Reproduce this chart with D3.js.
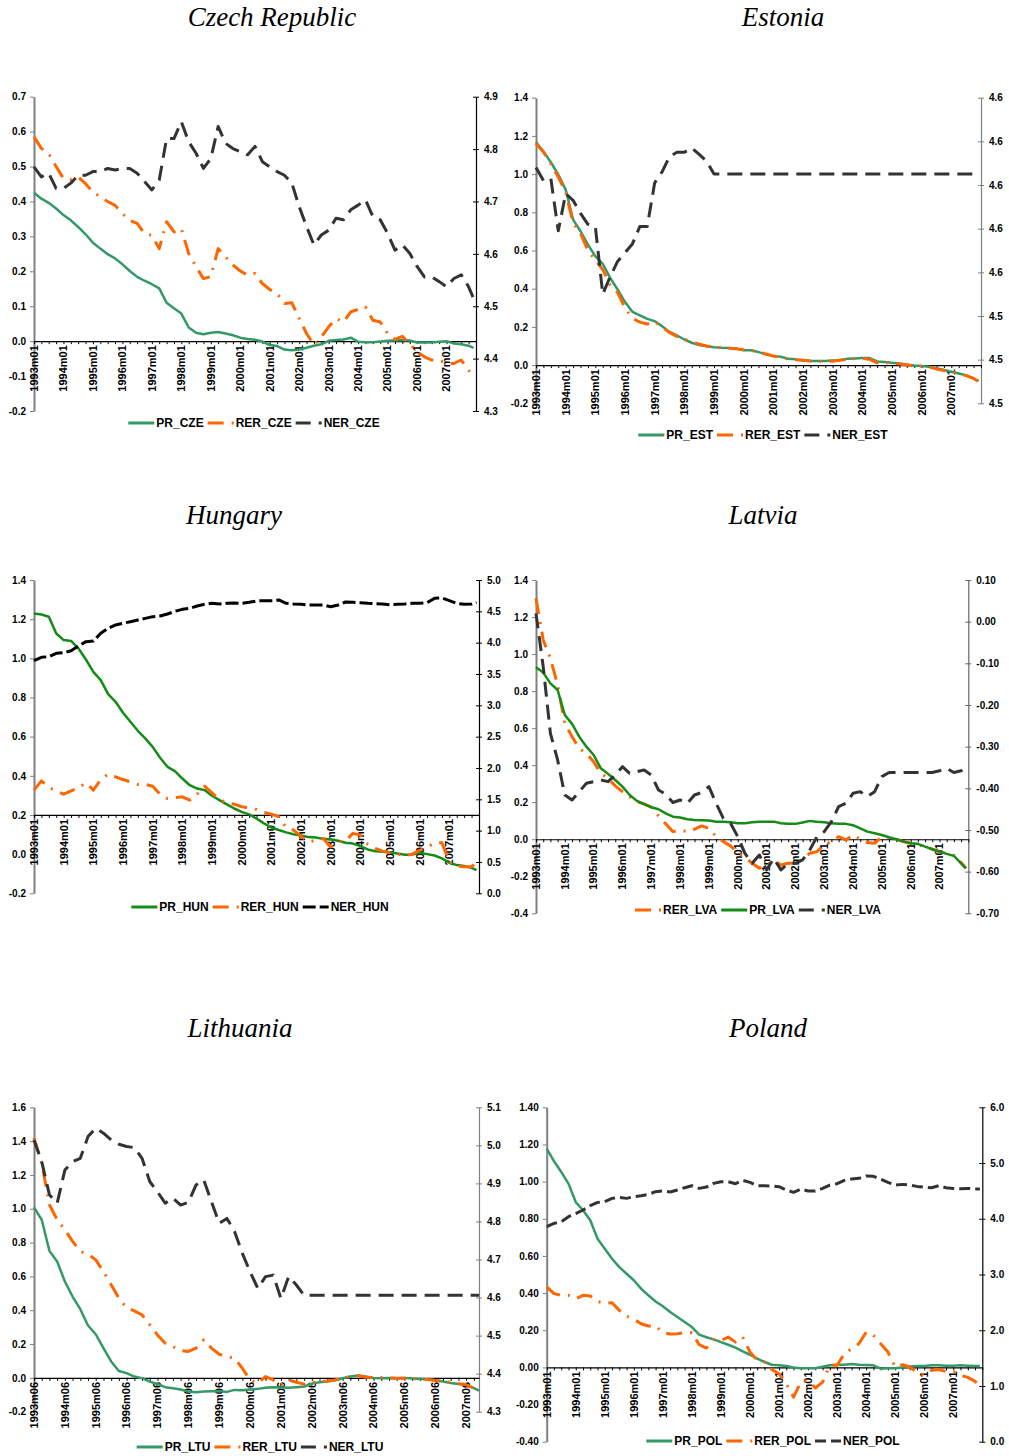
<!DOCTYPE html>
<html>
<head>
<meta charset="utf-8">
<script src="https://cdn.jsdelivr.net/npm/d3@7"></script>
<style>
  body { margin: 0; background: #fff; }
  svg { display: block; }
</style>
</head>
<body>
<svg id="chart" width="1009" height="1456"></svg>
<script>
// year labels on the category axes
const labelsM01 = ["1993m01","1994m01","1995m01","1996m01","1997m01","1998m01","1999m01","2000m01","2001m01","2002m01","2003m01","2004m01","2005m01","2006m01","2007m01"];
const labelsM06 = ["1993m06","1994m06","1995m06","1996m06","1997m06","1998m06","1999m06","2000m06","2001m06","2002m06","2003m06","2004m06","2005m06","2006m06","2007m06"];

// values read every 3 months, last value = last month
const PR_CZE = [0.425,0.408,0.396,0.38,0.361,0.346,0.327,0.306,0.282,0.265,0.249,0.237,0.220,0.201,0.184,0.173,0.163,0.151,0.110,0.094,0.079,0.039,0.024,0.020,0.024,0.026,0.022,0.017,0.010,0.006,0.004,-0.001,-0.011,-0.014,-0.024,-0.026,-0.024,-0.019,-0.013,-0.009,0.001,0.003,0.005,0.010,-0.002,-0.003,-0.003,-0.001,0.001,0.002,0.003,0.002,-0.004,-0.004,-0.004,-0.002,0.000,-0.007,-0.009,-0.013,-0.019];
const RER_CZE = [0.585,0.552,0.537,0.50,0.466,0.463,0.47,0.451,0.427,0.413,0.40,0.389,0.365,0.346,0.337,0.308,0.303,0.265,0.342,0.313,0.322,0.251,0.213,0.179,0.185,0.265,0.241,0.218,0.201,0.189,0.194,0.165,0.148,0.136,0.108,0.110,0.065,0.022,-0.011,0.012,0.041,0.065,0.055,0.084,0.091,0.098,0.060,0.055,0.022,0.005,0.014,-0.007,-0.031,-0.045,-0.054,-0.054,-0.064,-0.064,-0.054,-0.083,-0.107];
const NER_CZE = [4.766,4.747,4.754,4.725,4.725,4.735,4.750,4.750,4.757,4.757,4.763,4.760,4.763,4.763,4.754,4.738,4.722,4.741,4.820,4.820,4.852,4.814,4.792,4.763,4.782,4.843,4.811,4.801,4.795,4.789,4.805,4.776,4.766,4.757,4.750,4.735,4.690,4.652,4.617,4.636,4.645,4.668,4.665,4.684,4.693,4.703,4.671,4.665,4.639,4.607,4.617,4.601,4.576,4.556,4.556,4.547,4.537,4.553,4.560,4.537,4.515];

const PR_EST = [1.167,1.119,1.062,0.997,0.919,0.762,0.701,0.631,0.570,0.530,0.457,0.396,0.330,0.279,0.260,0.242,0.230,0.204,0.174,0.155,0.134,0.117,0.105,0.099,0.094,0.091,0.089,0.087,0.078,0.078,0.068,0.056,0.047,0.044,0.033,0.030,0.024,0.021,0.021,0.021,0.024,0.026,0.033,0.035,0.037,0.037,0.019,0.016,0.012,0.009,0.003,-0.002,-0.005,-0.009,-0.016,-0.026,-0.035,-0.044,-0.054,-0.070,-0.084];
const RER_EST = [1.160,1.115,1.055,0.985,0.905,0.745,0.690,0.600,0.550,0.500,0.420,0.380,0.300,0.245,0.225,0.215,0.228,0.200,0.170,0.150,0.135,0.122,0.110,0.100,0.095,0.090,0.088,0.085,0.080,0.076,0.070,0.058,0.048,0.040,0.032,0.028,0.026,0.022,0.018,0.022,0.020,0.026,0.030,0.034,0.035,0.030,0.012,0.014,0.010,0.006,0.000,-0.005,-0.006,-0.010,-0.020,-0.028,-0.035,-0.045,-0.055,-0.070,-0.085];
const NER_EST = [4.608,4.602,4.603,4.579,4.596,4.593,4.587,4.582,4.581,4.550,4.558,4.565,4.569,4.573,4.581,4.581,4.601,4.606,4.613,4.615,4.615,4.617,4.614,4.611,4.605,4.605,4.605,4.605,4.605,4.605,4.605,4.605,4.605,4.605,4.605,4.605,4.605,4.605,4.605,4.605,4.605,4.605,4.605,4.605,4.605,4.605,4.605,4.605,4.605,4.605,4.605,4.605,4.605,4.605,4.605,4.605,4.605,4.605,4.605,4.605,4.605];

const PR_HUN = [1.229,1.224,1.212,1.127,1.093,1.089,1.050,0.994,0.931,0.889,0.817,0.778,0.722,0.676,0.630,0.591,0.548,0.492,0.446,0.424,0.386,0.352,0.335,0.327,0.298,0.276,0.254,0.233,0.216,0.203,0.182,0.157,0.136,0.123,0.111,0.102,0.095,0.087,0.085,0.078,0.075,0.068,0.058,0.054,0.041,0.024,0.015,0.012,0.010,0.003,-0.003,-0.002,0.007,0.000,-0.007,-0.022,-0.044,-0.056,-0.061,-0.070,-0.082];
const RER_HUN = [0.327,0.374,0.340,0.323,0.306,0.323,0.339,0.364,0.327,0.381,0.409,0.395,0.381,0.369,0.356,0.356,0.347,0.306,0.284,0.288,0.293,0.276,0.306,0.347,0.313,0.279,0.262,0.255,0.242,0.237,0.228,0.213,0.204,0.191,0.136,0.123,0.092,0.063,0.071,0.080,0.037,0.063,0.068,0.106,0.097,0.051,0.029,0.015,0.007,0.000,-0.007,0.000,0.020,0.034,0.058,0.058,-0.039,-0.061,-0.065,-0.065,-0.039];
const NER_HUN = [3.713,3.766,3.777,3.830,3.840,3.872,3.947,4.016,4.027,4.149,4.229,4.282,4.309,4.335,4.362,4.388,4.415,4.426,4.457,4.500,4.532,4.548,4.585,4.612,4.628,4.617,4.628,4.633,4.628,4.644,4.665,4.670,4.670,4.681,4.628,4.617,4.612,4.601,4.601,4.601,4.574,4.601,4.649,4.644,4.638,4.628,4.622,4.617,4.606,4.612,4.617,4.628,4.628,4.638,4.707,4.713,4.670,4.628,4.612,4.617,4.644];

const RER_LVA = [1.301,1.076,0.977,0.833,0.626,0.554,0.491,0.464,0.419,0.356,0.329,0.288,0.257,0.230,0.203,0.191,0.173,0.126,0.083,0.041,0.050,0.041,0.054,0.072,0.059,0.014,-0.013,-0.036,-0.072,-0.097,-0.130,-0.157,-0.139,-0.115,-0.139,-0.130,-0.130,-0.108,-0.076,-0.067,-0.031,-0.013,0.014,-0.004,0.023,0.000,-0.018,-0.022,0.014,0.009,0.000,-0.013,-0.022,-0.031,-0.040,-0.054,-0.067,-0.076,-0.088,-0.126,-0.157];
const PR_LVA = [0.929,0.900,0.842,0.806,0.671,0.623,0.554,0.500,0.455,0.383,0.353,0.320,0.284,0.239,0.207,0.189,0.173,0.162,0.140,0.122,0.117,0.108,0.104,0.103,0.101,0.095,0.095,0.092,0.086,0.086,0.092,0.095,0.094,0.095,0.086,0.083,0.083,0.090,0.099,0.094,0.092,0.086,0.083,0.083,0.076,0.059,0.041,0.032,0.023,0.011,0.000,-0.013,-0.022,-0.025,-0.040,-0.054,-0.067,-0.079,-0.090,-0.130,-0.157];
const NER_LVA = [0.020,-0.108,-0.268,-0.332,-0.416,-0.428,-0.408,-0.388,-0.384,-0.380,-0.384,-0.368,-0.348,-0.364,-0.360,-0.356,-0.368,-0.404,-0.414,-0.434,-0.428,-0.436,-0.416,-0.410,-0.396,-0.436,-0.472,-0.484,-0.516,-0.556,-0.580,-0.560,-0.596,-0.568,-0.596,-0.580,-0.580,-0.572,-0.548,-0.516,-0.504,-0.480,-0.444,-0.436,-0.412,-0.408,-0.420,-0.408,-0.372,-0.362,-0.362,-0.362,-0.362,-0.362,-0.362,-0.362,-0.358,-0.352,-0.362,-0.358,-0.350];

const PR_LTU = [1.008,0.935,0.751,0.688,0.570,0.481,0.406,0.310,0.258,0.176,0.097,0.041,0.028,0.008,-0.002,-0.022,-0.036,-0.055,-0.061,-0.069,-0.081,-0.085,-0.081,-0.079,-0.077,-0.083,-0.071,-0.073,-0.069,-0.065,-0.059,-0.055,-0.057,-0.059,-0.055,-0.051,-0.034,-0.026,-0.022,-0.014,-0.002,0.008,0.014,0.008,0.000,-0.002,0.000,-0.002,0.000,-0.004,-0.006,-0.008,-0.014,-0.022,-0.030,-0.036,-0.041,-0.061,-0.075];
const RER_LTU = [1.418,1.270,1.024,0.935,0.876,0.807,0.748,0.732,0.698,0.629,0.550,0.471,0.416,0.396,0.373,0.314,0.254,0.205,0.185,0.162,0.156,0.176,0.225,0.176,0.140,0.126,0.116,0.057,-0.012,-0.032,0.008,-0.012,-0.041,-0.012,-0.026,-0.037,-0.026,-0.022,-0.018,-0.012,-0.002,0.008,0.012,0.004,0.002,0.002,0.000,-0.002,-0.002,-0.004,-0.006,-0.010,-0.016,-0.022,-0.026,-0.034,-0.041,-0.061,-0.075];
const NER_LTU = [5.014,4.957,4.870,4.848,4.935,4.957,4.966,5.023,5.045,5.032,5.014,5.003,4.997,4.994,4.966,4.905,4.878,4.848,4.861,4.843,4.850,4.896,4.909,4.852,4.795,4.808,4.773,4.716,4.668,4.624,4.655,4.659,4.598,4.655,4.633,4.606,4.606,4.606,4.606,4.606,4.606,4.606,4.606,4.606,4.606,4.606,4.606,4.606,4.606,4.606,4.606,4.606,4.606,4.606,4.606,4.606,4.606,4.606,4.606];

const PR_POL = [1.178,1.110,1.052,0.989,0.890,0.846,0.792,0.693,0.639,0.585,0.540,0.504,0.469,0.424,0.388,0.355,0.329,0.298,0.271,0.244,0.217,0.176,0.162,0.151,0.136,0.122,0.106,0.086,0.068,0.047,0.029,0.014,0.011,0.007,0.000,-0.004,-0.004,-0.004,0.004,0.011,0.014,0.014,0.018,0.014,0.013,0.011,-0.007,-0.005,-0.004,0.000,0.005,0.007,0.007,0.011,0.011,0.009,0.009,0.011,0.009,0.007,0.007];
const RER_POL = [0.433,0.397,0.388,0.388,0.370,0.388,0.384,0.355,0.345,0.348,0.307,0.276,0.259,0.235,0.223,0.223,0.187,0.180,0.181,0.187,0.187,0.122,0.104,0.149,0.145,0.163,0.136,0.163,0.083,0.038,0.029,-0.011,-0.034,-0.088,-0.160,-0.079,-0.070,-0.111,-0.079,0.011,0.011,0.074,0.101,0.127,0.190,0.172,0.127,0.083,0.002,0.014,0.002,-0.025,-0.043,-0.016,-0.011,-0.022,-0.022,-0.043,-0.054,-0.075,-0.097];
const NER_POL = [3.858,3.917,3.947,4.037,4.091,4.157,4.234,4.294,4.306,4.366,4.384,4.366,4.396,4.414,4.438,4.486,4.498,4.480,4.515,4.557,4.593,4.545,4.569,4.635,4.665,4.665,4.629,4.689,4.653,4.593,4.593,4.587,4.575,4.516,4.474,4.533,4.498,4.498,4.545,4.605,4.629,4.689,4.713,4.725,4.767,4.761,4.713,4.653,4.605,4.617,4.605,4.581,4.569,4.557,4.593,4.557,4.545,4.539,4.545,4.533,4.533];

const GREEN = "#339966", DKGREEN = "#158c15", ORANGE = "#ff6600";
const FONT = "'Liberation Sans', Arial, sans-serif";

const panels = [
  { title: "Czech Republic", tx: 272, ty: 26, left: 34, right: 476, top: 96.7, bottom: 411,
    yL: [-0.2, 0.7], stepL: 0.1, decL: 1, yR: [4.3, 4.9], stepR: 0.1, decR: 1, axisAt: 0,
    months: 180, labels: labelsM01, rightColor: "#000", legX: 256, legY: 423,
    series: [
      { name: "PR_CZE", values: PR_CZE, color: GREEN, dash: null, right: false },
      { name: "RER_CZE", values: RER_CZE, color: ORANGE, dash: "16,8,2,8", right: false },
      { name: "NER_CZE", values: NER_CZE, color: "#333", dash: "15,8", right: true }
    ] },
  { title: "Estonia", tx: 783, ty: 26, left: 536, right: 981, top: 97.7, bottom: 403.3,
    yL: [-0.2, 1.4], stepL: 0.2, decL: 1, yR: [4.50, 4.64], stepR: 0.02, decR: 1, axisAt: 0,
    months: 180, labels: labelsM01, rightColor: "#808080", legX: 765, legY: 435,
    series: [
      { name: "PR_EST", values: PR_EST, color: GREEN, dash: null, right: false },
      { name: "RER_EST", values: RER_EST, color: ORANGE, dash: "16,8,2,8", right: false },
      { name: "NER_EST", values: NER_EST, color: "#333", dash: "15,8", right: true }
    ] },
  { title: "Hungary", tx: 234, ty: 524, left: 34, right: 479, top: 580, bottom: 893.3,
    yL: [-0.2, 1.4], stepL: 0.2, decL: 1, yR: [0, 5], stepR: 0.5, decR: 1, axisAt: 0.2,
    months: 180, labels: labelsM01, rightColor: "#000", legX: 262, legY: 907,
    series: [
      { name: "PR_HUN", values: PR_HUN, color: DKGREEN, dash: null, right: false },
      { name: "RER_HUN", values: RER_HUN, color: ORANGE, dash: "16,8,2,8", right: false },
      { name: "NER_HUN", values: NER_HUN, color: "#000", dash: "13,4", right: true }
    ] },
  { title: "Latvia", tx: 763, ty: 524, left: 536, right: 968.3, top: 580, bottom: 913.3,
    yL: [-0.4, 1.4], stepL: 0.2, decL: 1, yR: [-0.7, 0.1], stepR: 0.1, decR: 2, axisAt: 0,
    months: 180, labels: labelsM01, rightColor: "#666", legX: 760, legY: 910,
    series: [
      { name: "RER_LVA", values: RER_LVA, color: ORANGE, dash: "16,8,2,8", right: false },
      { name: "PR_LVA", values: PR_LVA, color: DKGREEN, dash: null, right: false },
      { name: "NER_LVA", values: NER_LVA, color: "#333", dash: "15,8", right: true }
    ] },
  { title: "Lithuania", tx: 240, ty: 1037, left: 34, right: 479, top: 1107.3, bottom: 1411.7,
    yL: [-0.2, 1.6], stepL: 0.2, decL: 1, yR: [4.3, 5.1], stepR: 0.1, decR: 1, axisAt: 0,
    months: 174, labels: labelsM06, rightColor: "#808080", legX: 262, legY: 1447,
    series: [
      { name: "PR_LTU", values: PR_LTU, color: GREEN, dash: null, right: false },
      { name: "RER_LTU", values: RER_LTU, color: ORANGE, dash: "16,8,2,8", right: false },
      { name: "NER_LTU", values: NER_LTU, color: "#333", dash: "15,8", right: true }
    ] },
  { title: "Poland", tx: 768, ty: 1037, left: 546.7, right: 982.3, top: 1107.3, bottom: 1441.7,
    yL: [-0.4, 1.4], stepL: 0.2, decL: 2, yR: [0, 6], stepR: 1, decR: 1, axisAt: 0,
    months: 180, labels: labelsM01, rightColor: "#000", legX: 775, legY: 1441,
    series: [
      { name: "PR_POL", values: PR_POL, color: GREEN, dash: null, right: false },
      { name: "RER_POL", values: RER_POL, color: ORANGE, dash: "16,8,2,8", right: false },
      { name: "NER_POL", values: NER_POL, color: "#333", dash: "11,5", right: true }
    ] }
];

const svg = d3.select("#chart");
svg.append("rect").attr("width", 1009).attr("height", 1456).attr("fill", "#fff");

function fmt(dec) {
  return (v) => (Math.abs(v) < 1e-9 ? 0 : v).toFixed(dec);
}

// index i of a quarterly array -> month number; the last point is the last month
function monthOf(i, len, months) {
  return i === len - 1 ? months - 1 : 3 * i;
}

panels.forEach((p) => {
  const g = svg.append("g");
  const last = p.months === 180 ? 180 : p.months - 1;
  const x = d3.scaleLinear().domain([0, last]).range([p.left, p.right]);
  const yL = d3.scaleLinear().domain(p.yL).range([p.bottom, p.top]);
  const yR = d3.scaleLinear().domain(p.yR).range([p.bottom, p.top]);

  g.append("text")
    .attr("x", p.tx).attr("y", p.ty)
    .attr("text-anchor", "middle")
    .style("font-family", "'Liberation Serif', 'Times New Roman', serif")
    .style("font-style", "italic")
    .style("font-size", "27px")
    .text(p.title);

  // left axis
  const ticksL = d3.range(p.yL[0], p.yL[1] + p.stepL / 2, p.stepL);
  const gl = g.append("g")
    .attr("transform", `translate(${p.left},0)`)
    .call(d3.axisLeft(yL).tickValues(ticksL).tickFormat(fmt(p.decL)).tickSize(4).tickPadding(4).tickSizeOuter(0));
  gl.select(".domain").attr("stroke", "#808080").attr("stroke-width", 2);
  gl.selectAll(".tick line").attr("stroke", "#808080");

  // right axis
  const ticksR = d3.range(p.yR[0], p.yR[1] + p.stepR / 2, p.stepR);
  const gr = g.append("g")
    .attr("transform", `translate(${p.right},0)`)
    .call(d3.axisRight(yR).tickValues(ticksR).tickFormat(fmt(p.decR)).tickSize(3).tickPadding(5).tickSizeOuter(0));
  gr.select(".domain").attr("stroke", p.rightColor).attr("stroke-width", 1.2);
  gr.selectAll(".tick line").attr("x1", -3).attr("stroke", p.rightColor);

  [gl, gr].forEach((a) => a.selectAll(".tick text")
    .style("font-family", FONT).style("font-weight", "bold").style("font-size", "10px").attr("fill", "#000"));

  // category axis
  const axisY = yL(p.axisAt);
  const gx = g.append("g")
    .attr("transform", `translate(0,${axisY})`)
    .call(d3.axisBottom(x).tickValues(d3.range(0, last + 1, 3)).tickFormat("").tickSize(3).tickSizeOuter(0));
  gx.select(".domain").attr("stroke", "#000").attr("stroke-width", 1.2);
  gx.selectAll(".tick line").attr("stroke", "#000");

  g.append("g").selectAll("text")
    .data(p.labels)
    .join("text")
    .attr("transform", (d, i) => `translate(${x(12 * i)},${axisY + 4}) rotate(-90)`)
    .attr("text-anchor", "end")
    .attr("dy", "0.35em")
    .style("font-family", FONT).style("font-weight", "bold").style("font-size", "11px")
    .text((d) => d);

  // series
  p.series.forEach((s) => {
    const y = s.right ? yR : yL;
    const line = d3.line()
      .x((d, i) => x(monthOf(i, s.values.length, p.months)))
      .y((d) => y(d));
    g.append("path")
      .datum(s.values)
      .attr("fill", "none")
      .attr("stroke", s.color)
      .attr("stroke-width", s.dash ? 3 : 2.5)
      .attr("stroke-dasharray", s.dash)
      .attr("stroke-linejoin", "round")
      .attr("d", line);
  });

  // legend
  const leg = g.append("g");
  let cx = 0;
  p.series.forEach((s) => {
    leg.append("line")
      .attr("x1", cx).attr("x2", cx + 26).attr("y1", 0).attr("y2", 0)
      .attr("stroke", s.color).attr("stroke-width", 3)
      .attr("stroke-dasharray", s.dash);
    const t = leg.append("text")
      .attr("x", cx + 28).attr("y", 0).attr("dy", "0.35em")
      .style("font-family", FONT).style("font-weight", "bold").style("font-size", "12px")
      .text(s.name);
    cx += 28 + t.node().getComputedTextLength() + 4;
  });
  leg.attr("transform", `translate(${p.legX - cx / 2},${p.legY})`);
});
</script>
</body>
</html>
